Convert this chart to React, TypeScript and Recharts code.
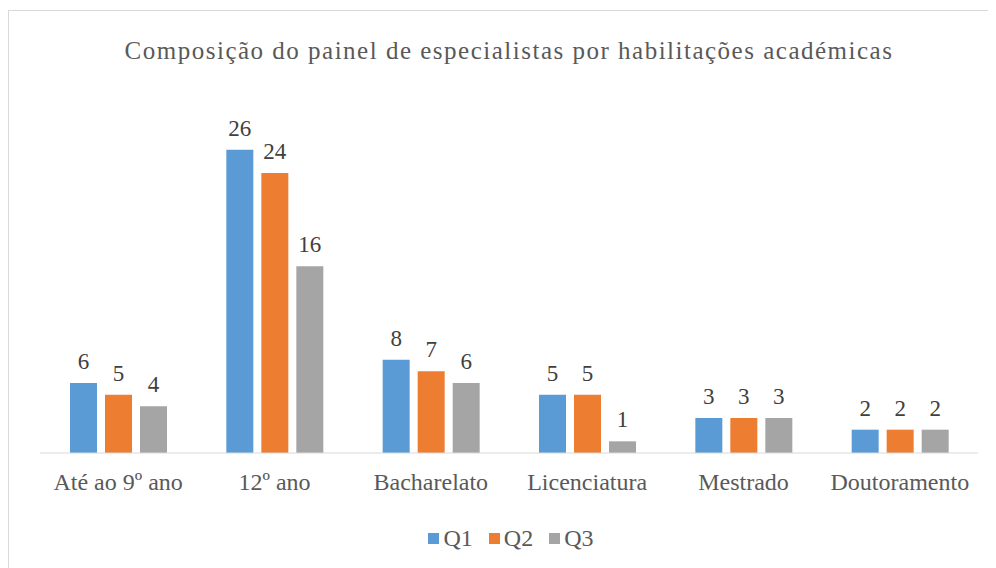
import { Bar, BarChart, XAxis, YAxis, Legend, LabelList } from "recharts"

const categories = ["Até ao 9º ano", "12º ano", "Bacharelato", "Licenciatura", "Mestrado", "Doutoramento"]
const q1 = [6, 26, 8, 5, 3, 2]
const q2 = [5, 24, 7, 5, 3, 2]
const q3 = [4, 16, 6, 1, 3, 2]

const data = categories.map((name, i) => ({ name, Q1: q1[i], Q2: q2[i], Q3: q3[i] }))

const font = "'Liberation Serif', 'Times New Roman', serif"

const renderLegend = (props: any) => {
  const { payload } = props
  return (
    <div style={{ display: "flex", justifyContent: "center", alignItems: "center", fontFamily: font, fontSize: 24, color: "#595959" }}>
      {payload.map((entry: any) => (
        <div key={entry.value} style={{ display: "flex", alignItems: "center", margin: "0 8px" }}>
          <span style={{ display: "inline-block", width: 11, height: 11, background: entry.color, marginRight: 4 }} />
          <span>{entry.value}</span>
        </div>
      ))}
    </div>
  )
}

export default function App() {
  return (
    <div
      style={{
        position: "relative",
        marginTop: 2,
        width: 984,
        height: 570,
        border: "1px solid #d9d9d9",
        background: "#fff",
        fontFamily: font,
      }}
    >
      <div
        style={{
          position: "absolute",
          top: 26,
          left: 8,
          width: "100%",
          textAlign: "center",
          fontSize: 25,
          letterSpacing: 1.5,
          color: "#595959",
        }}
      >
        Composição do painel de especialistas por habilitações académicas
      </div>
      <BarChart
        width={984}
        height={556}
        data={data}
        margin={{ top: 92, right: 15, left: 31, bottom: 64 }}
        barCategoryGap={30}
        barGap={8}
      >
        <XAxis
          dataKey="name"
          height={50}
          tickLine={false}
          tickSize={0}
          tickMargin={20}
          axisLine={{ stroke: "#d9d9d9" }}
          tick={{ fill: "#595959", fontSize: 24, fontFamily: font }}
        />
        <YAxis hide domain={[0, 30]} />
        <Legend
          verticalAlign="middle"
          align="center"
          layout="horizontal"
          content={renderLegend}
          wrapperStyle={{ top: 514, left: 10, width: 984 }}
        />
        <Bar dataKey="Q1" fill="#5B9BD5" isAnimationActive={false}>
          <LabelList dataKey="Q1" position="top" offset={14} fill="#404040" fontSize={23} fontFamily={font} />
        </Bar>
        <Bar dataKey="Q2" fill="#ED7D31" isAnimationActive={false}>
          <LabelList dataKey="Q2" position="top" offset={14} fill="#404040" fontSize={23} fontFamily={font} />
        </Bar>
        <Bar dataKey="Q3" fill="#A5A5A5" isAnimationActive={false}>
          <LabelList dataKey="Q3" position="top" offset={14} fill="#404040" fontSize={23} fontFamily={font} />
        </Bar>
      </BarChart>
    </div>
  )
}
